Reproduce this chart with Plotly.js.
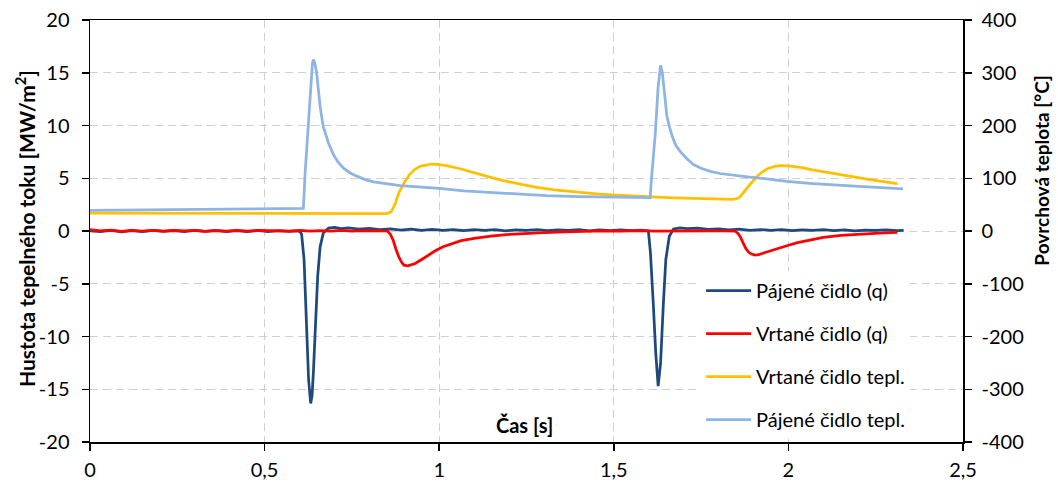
<!DOCTYPE html>
<html>
<head>
<meta charset="utf-8">
<script src="https://cdn.plot.ly/plotly-3.0.1.min.js"></script>
<style>html,body{margin:0;padding:0;background:#fff;}#chart{width:1058px;height:482px;}</style>
</head>
<body>
<div id="chart"></div>
<script>
// Pájené čidlo (q) [MW/m2]
const pq_x = [0,0.03,0.06,0.09,0.12,0.15,0.18,0.21,0.24,0.27,0.30,0.33,0.36,0.39,0.42,0.45,0.48,0.51,0.54,0.57,0.60,0.606,0.613,0.619,0.626,0.632,0.636,0.640,0.646,0.652,0.659,0.668,0.683,0.70,0.72,0.74,0.77,0.80,0.83,0.86,0.89,0.92,0.95,0.98,1.01,1.04,1.07,1.10,1.13,1.16,1.19,1.22,1.25,1.28,1.31,1.34,1.37,1.40,1.43,1.46,1.49,1.52,1.55,1.58,1.599,1.605,1.613,1.620,1.627,1.634,1.642,1.649,1.659,1.671,1.69,1.71,1.74,1.77,1.80,1.83,1.86,1.89,1.92,1.95,1.98,2.01,2.04,2.07,2.10,2.13,2.16,2.19,2.22,2.25,2.28,2.31,2.33];
const pq_y = [0.02,-0.06,0.05,-0.08,0.04,-0.05,0.07,-0.04,0.03,-0.07,0.05,-0.03,0.06,-0.06,0.04,-0.05,0.05,-0.06,0.03,-0.04,0.0,-0.3,-2.7,-8.4,-14.1,-16.35,-15.6,-13.2,-8.4,-4.3,-1.5,-0.2,0.28,0.35,0.22,0.3,0.18,0.24,0.12,0.2,0.08,0.17,0.06,0.15,0.05,0.14,0.03,0.12,0.06,0.13,0.02,0.11,0.05,0.12,0.03,0.1,0.06,0.12,0.02,0.1,0.04,0.11,0.03,0.08,0.0,-2.1,-6.85,-11.5,-14.7,-12.5,-6.85,-2.7,-0.5,0.2,0.3,0.22,0.28,0.15,0.2,0.1,0.18,0.06,0.14,0.05,0.13,0.03,0.11,0.06,0.12,0.04,0.1,0.02,0.09,0.05,0.1,0.03,0.06];

// Vrtané čidlo (q) [MW/m2]
const vq_x = [0,0.03,0.06,0.09,0.12,0.15,0.18,0.21,0.24,0.27,0.30,0.33,0.36,0.39,0.42,0.45,0.48,0.51,0.54,0.57,0.60,0.63,0.66,0.69,0.72,0.75,0.78,0.81,0.84,0.852,0.86,0.868,0.876,0.884,0.892,0.899,0.91,0.92,0.931,0.95,0.968,0.99,1.011,1.035,1.063,1.10,1.148,1.20,1.254,1.30,1.36,1.42,1.47,1.52,1.57,1.62,1.67,1.72,1.77,1.82,1.847,1.855,1.862,1.87,1.878,1.886,1.894,1.905,1.915,1.931,1.95,1.974,2.0,2.026,2.06,2.10,2.15,2.206,2.26,2.312];
const vq_y = [0.12,0.02,0.08,-0.03,0.06,0.0,0.07,-0.02,0.05,0.01,0.06,-0.03,0.04,0.0,0.06,-0.02,0.05,0.01,0.03,-0.02,0.05,0.0,0.04,-0.01,0.05,0.0,0.03,0.01,0.02,0.0,-0.3,-0.86,-1.7,-2.44,-2.95,-3.24,-3.3,-3.2,-3.08,-2.7,-2.29,-1.85,-1.49,-1.2,-0.92,-0.7,-0.48,-0.33,-0.22,-0.15,-0.08,-0.03,0.02,-0.02,0.03,0.0,0.03,-0.01,0.02,0.0,0.0,-0.2,-0.54,-1.1,-1.65,-2.0,-2.19,-2.29,-2.25,-2.06,-1.85,-1.59,-1.35,-1.11,-0.85,-0.6,-0.42,-0.29,-0.2,-0.13];

// Vrtané čidlo tepl. [°C]
const vt_x = [0,0.1,0.2,0.3,0.4,0.5,0.6,0.7,0.8,0.85,0.862,0.873,0.884,0.9,0.915,0.93,0.947,0.965,0.979,1.0,1.021,1.06,1.095,1.14,1.18,1.23,1.275,1.33,1.392,1.45,1.508,1.56,1.603,1.67,1.73,1.79,1.841,1.855,1.862,1.875,1.889,1.905,1.921,1.94,1.963,1.985,2.005,2.04,2.069,2.11,2.153,2.2,2.238,2.28,2.312];
const vt_y = [34,33.8,33.6,33.4,33.2,33.1,33,33,33,33,36,50,72,92,107,117,123,126,127,126,124,118,111,103,96,89,83,78,74,70.5,68,66,65,63,62,61,60,62,65,76,88,100,110,118,123,124,123,120,116,111,107,101,97,93,90];

// Pájené čidlo tepl. [°C]
const pt_x = [0,0.1,0.2,0.3,0.4,0.5,0.6,0.611,0.616,0.626,0.633,0.637,0.640,0.644,0.649,0.654,0.659,0.668,0.683,0.697,0.71,0.726,0.745,0.764,0.79,0.812,0.85,0.888,0.95,1.0,1.07,1.148,1.22,1.307,1.4,1.497,1.55,1.604,1.608,1.614,1.619,1.627,1.631,1.634,1.639,1.644,1.652,1.66,1.667,1.677,1.69,1.708,1.728,1.75,1.776,1.804,1.85,1.889,1.95,1.995,2.07,2.153,2.24,2.328];
const pt_y = [39,39.5,40,40.5,41,41.5,42,43,110,218,294,318,325,318,300,265,236,198,167,145,131,119,110,104,97,93,89,86,83,81,76,73,69,67,65,64,63.5,63.5,100,150,186,274,305,314,300,268,218,196,180,163,151,138,126,119,113,109,105,102,98,94,90,86,83,80];

const seriesNames = ["Pájené čidlo (q)", "Vrtané čidlo (q)", "Vrtané čidlo tepl.", "Pájené čidlo tepl."];

const xTickVals = [0,0.5,1,1.5,2,2.5];
const xTickText = ["0","0,5","1","1,5","2","2,5"];
const yTickVals = [-20,-15,-10,-5,0,5,10,15,20];
const yTickText = ["-20","-15","-10","-5","0","5","10","15","20"];
const y2TickVals = [-400,-300,-200,-100,0,100,200,300,400];
const y2TickText = ["-400","-300","-200","-100","0","100","200","300","400"];

const xTitle = 'Čas [s]';
const yTitle = 'Hustota tepelného toku [MW/m<sup>2</sup>]';
const y2Title = 'Povrchová teplota [°C]';

const FONT = "Lato, 'Open Sans', sans-serif";

const traces = [
  {x: pq_x, y: pq_y, name: seriesNames[0], type: 'scatter', mode: 'lines', line: {color: '#1F497D', width: 2.75}, legendgroup: 'a'},
  {x: vq_x, y: vq_y, name: seriesNames[1], type: 'scatter', mode: 'lines', line: {color: '#FF0000', width: 2.75}, legendgroup: 'b'},
  {x: vt_x, y: vt_y, name: seriesNames[2], type: 'scatter', mode: 'lines', line: {color: '#FFC000', width: 2.75}, yaxis: 'y2', legendgroup: 'c'},
  {x: pt_x, y: pt_y, name: seriesNames[3], type: 'scatter', mode: 'lines', line: {color: '#8DB4E2', width: 2.75}, yaxis: 'y2', legendgroup: 'd'}
];

const axisCommon = {
  showline: true, linecolor: '#000', linewidth: 1.5,
  ticks: 'outside', ticklen: 7, tickwidth: 1.5, tickcolor: '#000',
  tickfont: {family: FONT, size: 20, color: '#000'},
  zeroline: false
};

const layout = {
  width: 1058, height: 482,
  margin: {l: 90, r: 95, t: 20, b: 40},
  paper_bgcolor: '#fff', plot_bgcolor: '#fff',
  font: {family: FONT, size: 20, color: '#000'},
  showlegend: true,
  legend: {
    x: 0.700, y: 0.405, xanchor: 'left', yanchor: 'top',
    bgcolor: '#fff', borderwidth: 0,
    font: {family: FONT, size: 20, color: '#000'},
    tracegroupgap: 14, itemwidth: 45,
    traceorder: 'grouped'
  },
  xaxis: Object.assign({}, axisCommon, {
    range: [0, 2.5], tickvals: xTickVals, ticktext: xTickText,
    showgrid: true, gridcolor: '#D0D0D0', gridwidth: 1, griddash: '8px,5px',
    mirror: true, ticklabelstandoff: 2
  }),
  yaxis: Object.assign({}, axisCommon, {
    range: [-20, 20], tickvals: yTickVals, ticktext: yTickText,
    showgrid: true, gridcolor: '#D0D0D0', gridwidth: 1, griddash: '8px,5px',
    ticklabelstandoff: 8
  }),
  yaxis2: Object.assign({}, axisCommon, {
    range: [-400, 400], tickvals: y2TickVals, ticktext: y2TickText,
    overlaying: 'y', side: 'right', showgrid: false,
    ticklabelstandoff: 6
  }),
  annotations: [
    {text: xTitle, xref: 'paper', yref: 'paper', x: 0.498, y: 0.04,
     xanchor: 'center', yanchor: 'middle', showarrow: false,
     font: {family: FONT, size: 20, color: '#000', weight: 'bold'}},
    {text: yTitle, xref: 'paper', yref: 'paper', x: -0.0745, y: 0.507, textangle: -90,
     xanchor: 'center', yanchor: 'middle', showarrow: false,
     font: {family: FONT, size: 21, color: '#000', weight: 'bold'}},
    {text: y2Title, xref: 'paper', yref: 'paper', x: 1.0905, y: 0.643, textangle: -90,
     xanchor: 'center', yanchor: 'middle', showarrow: false,
     font: {family: FONT, size: 19, color: '#000', weight: 'bold'}}
  ]
};

Plotly.newPlot('chart', traces, layout, {displayModeBar: false, staticPlot: true});
</script>
</body>
</html>
